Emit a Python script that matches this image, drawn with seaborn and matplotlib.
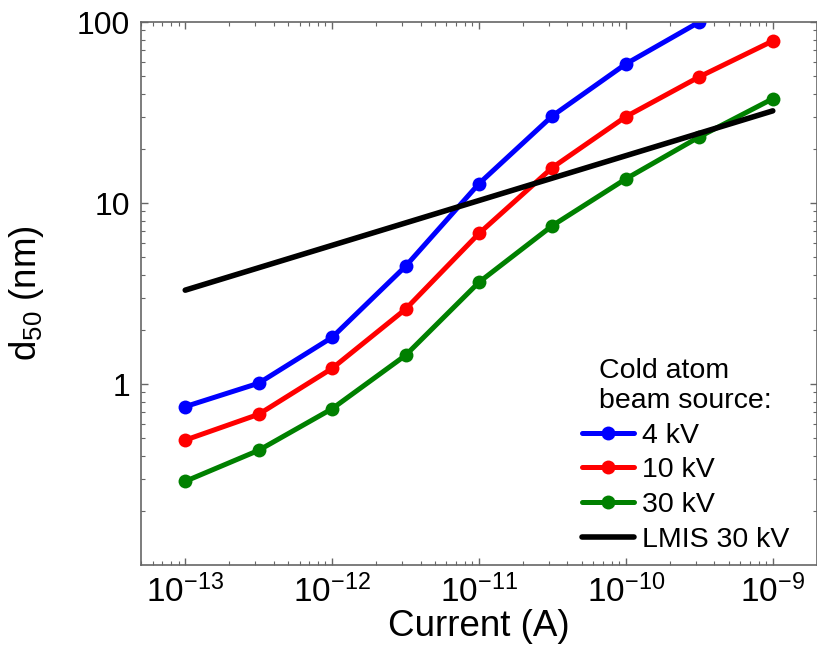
import numpy as np
import pandas as pd
import matplotlib
matplotlib.use("Agg")
import matplotlib.pyplot as plt
import matplotlib.ticker as mticker
import seaborn as sns

# values (log-log)
current = [1e-13, 3.16e-13, 1e-12, 3.16e-12, 1e-11, 3.16e-11, 1e-10, 3.16e-10, 1e-9]
d50_4kv = [0.75, 1.01, 1.81, 4.47, 12.8, 30.3, 58.7, 100.0]
d50_10kv = [0.49, 0.68, 1.22, 2.59, 6.79, 15.7, 30.0, 49.8, 78.6]
d50_30kv = [0.29, 0.43, 0.73, 1.44, 3.65, 7.5, 13.6, 23.2, 37.7]
lmis_current = [1e-13, 1e-9]
lmis_d50 = [3.3, 32.3]

sns.set_style("ticks")
plt.rcParams["font.family"] = ["Liberation Sans", "DejaVu Sans"]
plt.rcParams["mathtext.fontset"] = "custom"
plt.rcParams["mathtext.rm"] = "Liberation Sans"
plt.rcParams["mathtext.it"] = "Liberation Sans"
plt.rcParams["text.color"] = "black"
plt.rcParams["axes.labelcolor"] = "black"

fig = plt.figure(figsize=(8.17, 6.63), dpi=100)
ax = fig.add_axes([0.1726, 0.1478, 0.8274, 0.819])

lw = 3.6
sns.lineplot(x=current[:len(d50_4kv)], y=d50_4kv, color="#0000ff", marker="o",
             markersize=10, markeredgewidth=0, linewidth=lw, label="4 kV", ax=ax)
sns.lineplot(x=current, y=d50_10kv, color="#ff0000", marker="o",
             markersize=10, markeredgewidth=0, linewidth=lw, label="10 kV", ax=ax)
sns.lineplot(x=current, y=d50_30kv, color="#008000", marker="o",
             markersize=10, markeredgewidth=0, linewidth=lw, label="30 kV", ax=ax)
sns.lineplot(x=lmis_current, y=lmis_d50, color="black", linewidth=4,
             label="LMIS 30 kV", ax=ax)

ax.set_xscale("log")
ax.set_yscale("log")
ax.set_xlim(5e-14, 2e-9)
ax.set_ylim(0.1, 100)

ax.set_xticks([1e-13, 1e-12, 1e-11, 1e-10, 1e-9])
ax.set_xticklabels([r"$\mathregular{10^{-%d}}$" % e for e in [13, 12, 11, 10, 9]])
ax.set_yticks([1, 10, 100])
ax.set_yticklabels(["1", "10", "100"])
ax.xaxis.set_minor_locator(mticker.LogLocator(base=10, subs=np.arange(2, 10)))
ax.yaxis.set_minor_locator(mticker.LogLocator(base=10, subs=np.arange(2, 10)))
ax.xaxis.set_minor_formatter(mticker.NullFormatter())
ax.yaxis.set_minor_formatter(mticker.NullFormatter())

ax.tick_params(which="both", direction="in", top=True, right=True, colors="#666666",
               labelcolor="black")
ax.tick_params(axis="x", which="major", labelsize=24, pad=7)
ax.tick_params(axis="y", which="major", labelsize=23, pad=8)
ax.tick_params(which="major", length=5, width=1)
ax.tick_params(which="minor", length=3, width=0.8)
for s in ax.spines.values():
    s.set_color("#666666")
    s.set_linewidth(1.2)

ax.set_xlabel("Current (A)", fontsize=26.5, labelpad=0)
ax.set_ylabel(r"$\mathregular{d_{50}}$ (nm)", fontsize=26.5)
ax.yaxis.set_label_coords(-0.14, 0.5)

leg = ax.legend(title="Cold atom\nbeam source:", loc="lower left",
                bbox_to_anchor=(0.652, 0.022), frameon=False,
                fontsize=20.5, title_fontsize=20.5, handlelength=1.85, handletextpad=0.25,
                labelspacing=0.31, borderpad=0, borderaxespad=0, alignment="center",
                labelcolor="black")
leg.get_title().set_color("black")

fig.savefig("out.png", dpi=100)
